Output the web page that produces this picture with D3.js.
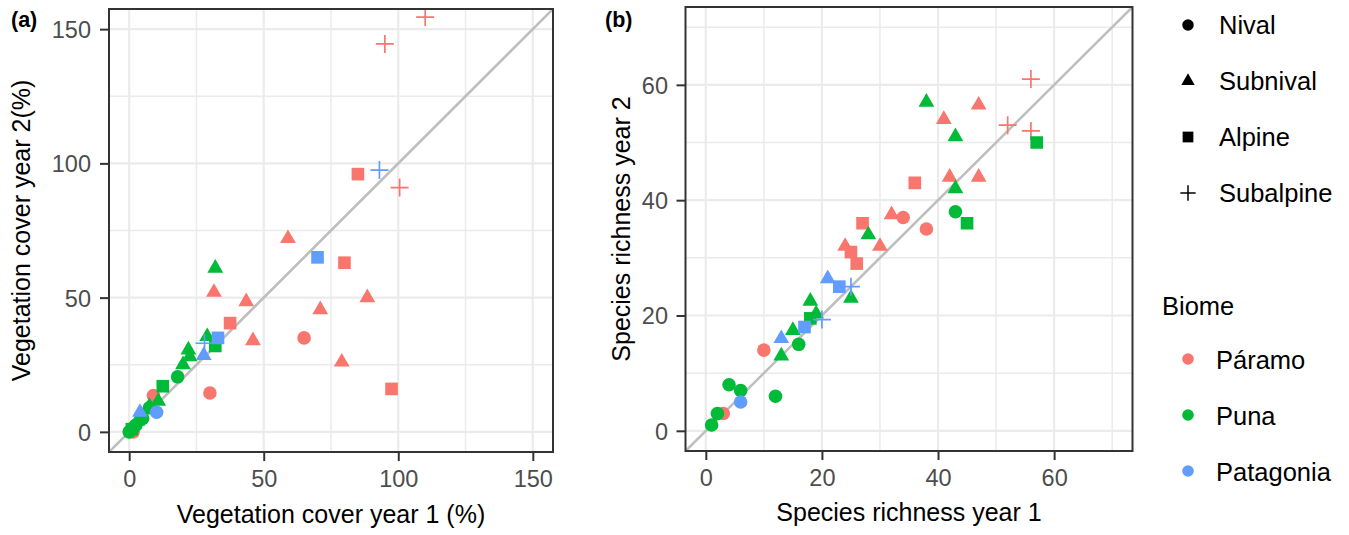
<!DOCTYPE html>
<html><head><meta charset="utf-8">
<script src="https://cdn.jsdelivr.net/npm/d3@7/dist/d3.min.js"></script>
<style>body{margin:0;background:#fff}svg{display:block}</style>
</head><body>
<svg id="c" width="1349" height="535"></svg>
<script>
const biomes = ["Páramo","Puna","Patagonia"];
const biomeColors = ["#F8766D","#00BA38","#619CFF"];
const habitats = ["Nival","Subnival","Alpine","Subalpine"];

// Panel (a): vegetation cover
const coverBiome = [
 "Páramo","Páramo","Páramo",
 "Páramo","Páramo","Páramo","Páramo",
 "Páramo","Páramo","Páramo","Páramo","Páramo","Páramo","Páramo",
 "Páramo","Páramo","Páramo","Páramo",
 "Puna","Puna","Puna","Puna","Puna","Puna","Puna","Puna",
 "Puna","Puna","Puna",
 "Puna","Puna","Puna","Puna","Puna","Puna",
 "Patagonia","Patagonia","Patagonia","Patagonia","Patagonia","Patagonia","Patagonia"];
const coverHabitat = [
 "Subalpine","Subalpine","Subalpine",
 "Alpine","Alpine","Alpine","Alpine",
 "Subnival","Subnival","Subnival","Subnival","Subnival","Subnival","Subnival",
 "Nival","Nival","Nival","Nival",
 "Subnival","Subnival","Subnival","Subnival","Subnival","Subnival","Subnival","Subnival",
 "Alpine","Alpine","Alpine",
 "Nival","Nival","Nival","Nival","Nival","Nival",
 "Subalpine","Subalpine","Alpine","Alpine","Subnival","Subnival","Nival"];
const coverYear1 = [110,95,100.5, 85,80,37.5,97.5, 59,31.5,43.5,88.5,71,46,79, 65,30,9,1.5,
 32,29,22,22.5,20,10.8,7.5,3, 32,12.5,1, 18,7.5,5,0,1.5,2.5,
 93,28,70,33,27.7,4,10.2];
const coverYear2 = [154.5,144.5,91, 96,63,40.5,16, 72,52,48.5,50,45.5,34,26, 35,14.5,13.5,0,
 61,35.5,30.5,28,25,11.4,9.5,4, 32,17,1, 20.5,9,5,0,1.5,2.5,
 97.5,33,65,35,28.5,7.3,7.3];
const coverTicks = [0,50,100,150];
const coverMinor = [25,75,125];

// Panel (b): species richness
const richBiome = [
 "Páramo","Páramo","Páramo",
 "Páramo","Páramo","Páramo","Páramo","Páramo","Páramo","Páramo",
 "Páramo","Páramo","Páramo","Páramo",
 "Páramo","Páramo","Páramo","Páramo",
 "Puna","Puna","Puna","Puna","Puna","Puna","Puna","Puna","Puna",
 "Puna","Puna","Puna",
 "Puna","Puna","Puna","Puna","Puna","Puna","Puna",
 "Patagonia","Patagonia","Patagonia","Patagonia","Patagonia","Patagonia","Patagonia"];
const richHabitat = [
 "Subalpine","Subalpine","Subalpine",
 "Subnival","Subnival","Subnival","Subnival","Subnival","Subnival","Subnival",
 "Alpine","Alpine","Alpine","Alpine",
 "Nival","Nival","Nival","Nival",
 "Subnival","Subnival","Subnival","Subnival","Subnival","Subnival","Subnival","Subnival","Subnival",
 "Alpine","Alpine","Alpine",
 "Nival","Nival","Nival","Nival","Nival","Nival","Nival",
 "Subalpine","Subalpine","Subnival","Subnival","Alpine","Alpine","Nival"];
const richYear1 = [56,52,56, 47,41,42,47,32,30,24, 36,27,25,26, 38,34,10,3,
 38,43,43,28,25,18,19,15,13, 57,45,18, 43,16,4,6,12,2,1,
 25,20,21,13,23,17,6];
const richYear2 = [61,53,52, 56.5,54,44,44,37.5,32,32, 43,36,31,29, 35,37,14,3,
 57,51,42,34,23,22.5,20.3,17.4,13, 50,36,19.5, 38,15,8,7,6,3,1,
 25,19.3,26.4,16,25,18,5];
const richTicks = [0,20,40,60];
const richMinor = [10,30,50,70];

const svg = d3.select("#c");
const FONT = "'Liberation Sans', Arial, sans-serif";
svg.append("rect").attr("width",1349).attr("height",535).attr("fill","#fff");

const colorScale = d3.scaleOrdinal().domain(biomes).range(biomeColors);

function shapePath(h, scale) {
  const s = scale || 1;
  if (h === "Nival") return d3.symbol(d3.symbolCircle, 145 * s * s)();
  if (h === "Subnival") return d3.symbol(d3.symbolTriangle, 108 * s * s)();
  if (h === "Alpine") return d3.symbol(d3.symbolSquare, 160 * s * s)();
  const a = 9 * s;
  return `M${-a},0H${a}M0,${-a}V${a}`;
}

function drawPanel(cfg, id) {
  const x = d3.scaleLinear().domain(cfg.domain).range([cfg.left, cfg.right]);
  const y = d3.scaleLinear().domain(cfg.domain).range([cfg.bottom, cfg.top]);
  const g = svg.append("g");
  g.append("clipPath").attr("id", "clip" + id).append("rect")
    .attr("x", cfg.left).attr("y", cfg.top)
    .attr("width", cfg.right - cfg.left).attr("height", cfg.bottom - cfg.top);

  // grid
  const grid = g.append("g").attr("stroke", "#EBEBEB");
  cfg.minor.forEach(v => {
    grid.append("line").attr("x1", x(v)).attr("x2", x(v)).attr("y1", cfg.top).attr("y2", cfg.bottom).attr("stroke-width", 1.5);
    grid.append("line").attr("y1", y(v)).attr("y2", y(v)).attr("x1", cfg.left).attr("x2", cfg.right).attr("stroke-width", 1.5);
  });
  cfg.ticks.forEach(v => {
    grid.append("line").attr("x1", x(v)).attr("x2", x(v)).attr("y1", cfg.top).attr("y2", cfg.bottom).attr("stroke-width", 2.2);
    grid.append("line").attr("y1", y(v)).attr("y2", y(v)).attr("x1", cfg.left).attr("x2", cfg.right).attr("stroke-width", 2.2);
  });

  // 1:1 line
  g.append("line").attr("clip-path", `url(#clip${id})`)
    .attr("x1", x(cfg.domain[0])).attr("y1", y(cfg.domain[0]))
    .attr("x2", x(cfg.domain[1])).attr("y2", y(cfg.domain[1]))
    .attr("stroke", "#BEBEBE").attr("stroke-width", 2.6);

  // points
  const pts = cfg.xs.map((v, i) => ({x: v, y: cfg.ys[i], b: cfg.biome[i], h: cfg.habitat[i]}));
  pts.sort((a, b) => biomes.indexOf(a.b) - biomes.indexOf(b.b));
  g.append("g").attr("clip-path", `url(#clip${id})`).selectAll("path").data(pts).join("path")
    .attr("transform", d => `translate(${x(d.x)},${y(d.y)})`)
    .attr("d", d => shapePath(d.h))
    .attr("fill", d => d.h === "Subalpine" ? "none" : colorScale(d.b))
    .attr("stroke", d => d.h === "Subalpine" ? colorScale(d.b) : "none")
    .attr("stroke-width", 1.7);

  // frame
  g.append("rect").attr("x", cfg.left).attr("y", cfg.top)
    .attr("width", cfg.right - cfg.left).attr("height", cfg.bottom - cfg.top)
    .attr("fill", "none").attr("stroke", "#333333").attr("stroke-width", 2);

  // axes
  const ax = g.append("g").attr("transform", `translate(0,${cfg.bottom})`)
    .call(d3.axisBottom(x).tickValues(cfg.ticks).tickSize(9).tickPadding(9.5).tickFormat(d3.format("d")));
  const ay = g.append("g").attr("transform", `translate(${cfg.left},0)`)
    .call(d3.axisLeft(y).tickValues(cfg.ticks).tickSize(9).tickPadding(cfg.ypad).tickFormat(d3.format("d")));
  [ax, ay].forEach(a => {
    a.select(".domain").remove();
    a.selectAll(".tick line").attr("stroke", "#333333").attr("stroke-width", 2);
    a.selectAll(".tick text").attr("fill", "#4D4D4D").style("font-family", FONT).style("font-size", "23.5px");
  });
  ay.selectAll(".tick text").attr("dy", "0.36em");

  // titles
  g.append("text").attr("x", (cfg.left + cfg.right) / 2).attr("y", cfg.xTitleY)
    .attr("text-anchor", "middle").style("font-family", FONT).style("font-size", "25px").attr("fill", "#000")
    .text(cfg.xTitle);
  g.append("text").attr("transform", `translate(${cfg.yTitleX},${(cfg.top + cfg.bottom) / 2}) rotate(-90)`)
    .attr("text-anchor", "middle").style("font-family", FONT).style("font-size", "25px").attr("fill", "#000")
    .text(cfg.yTitle);
  g.append("text").attr("x", cfg.tagX).attr("y", 27).style("font-family", FONT)
    .style("font-size", "21.5px").style("font-weight", "bold").attr("fill", "#000").text(cfg.tag);
}

drawPanel({left: 109, right: 553, top: 9, bottom: 452, domain: [-7.5, 157.5],
  ticks: coverTicks, minor: coverMinor, xs: coverYear1, ys: coverYear2,
  biome: coverBiome, habitat: coverHabitat, ypad: 9,
  xTitle: "Vegetation cover year 1 (%)", yTitle: "Vegetation cover year 2(%)",
  xTitleY: 523, yTitleX: 30, tag: "(a)", tagX: 11}, "a");

drawPanel({left: 685.5, right: 1132.5, top: 7, bottom: 451, domain: [-3.5, 73.5],
  ticks: richTicks, minor: richMinor, xs: richYear1, ys: richYear2,
  biome: richBiome, habitat: richHabitat, ypad: 8.5,
  xTitle: "Species richness year 1", yTitle: "Species richness year 2",
  xTitleY: 521, yTitleX: 630, tag: "(b)", tagX: 605}, "b");

// legends
const lg = svg.append("g");
const habY = [25, 81, 137, 193];
habitats.forEach((h, i) => {
  lg.append("path").attr("transform", `translate(1188,${habY[i]})`)
    .attr("d", shapePath(h, 0.85))
    .attr("fill", h === "Subalpine" ? "none" : "#000")
    .attr("stroke", h === "Subalpine" ? "#000" : "none").attr("stroke-width", 1.5);
  lg.append("text").attr("x", 1219).attr("y", habY[i] + 9).style("font-family", FONT)
    .style("font-size", "25.5px").attr("fill", "#000").text(h);
});
lg.append("text").attr("x", 1162).attr("y", 315).style("font-family", FONT)
  .style("font-size", "25.5px").attr("fill", "#000").text("Biome");
const bioY = [359, 415, 471];
biomes.forEach((b, i) => {
  lg.append("circle").attr("cx", 1188).attr("cy", bioY[i]).attr("r", 5.8).attr("fill", colorScale(b));
  lg.append("text").attr("x", 1216).attr("y", bioY[i] + 10).style("font-family", FONT)
    .style("font-size", "25.5px").attr("fill", "#000").text(b);
});
</script>
</body></html>
